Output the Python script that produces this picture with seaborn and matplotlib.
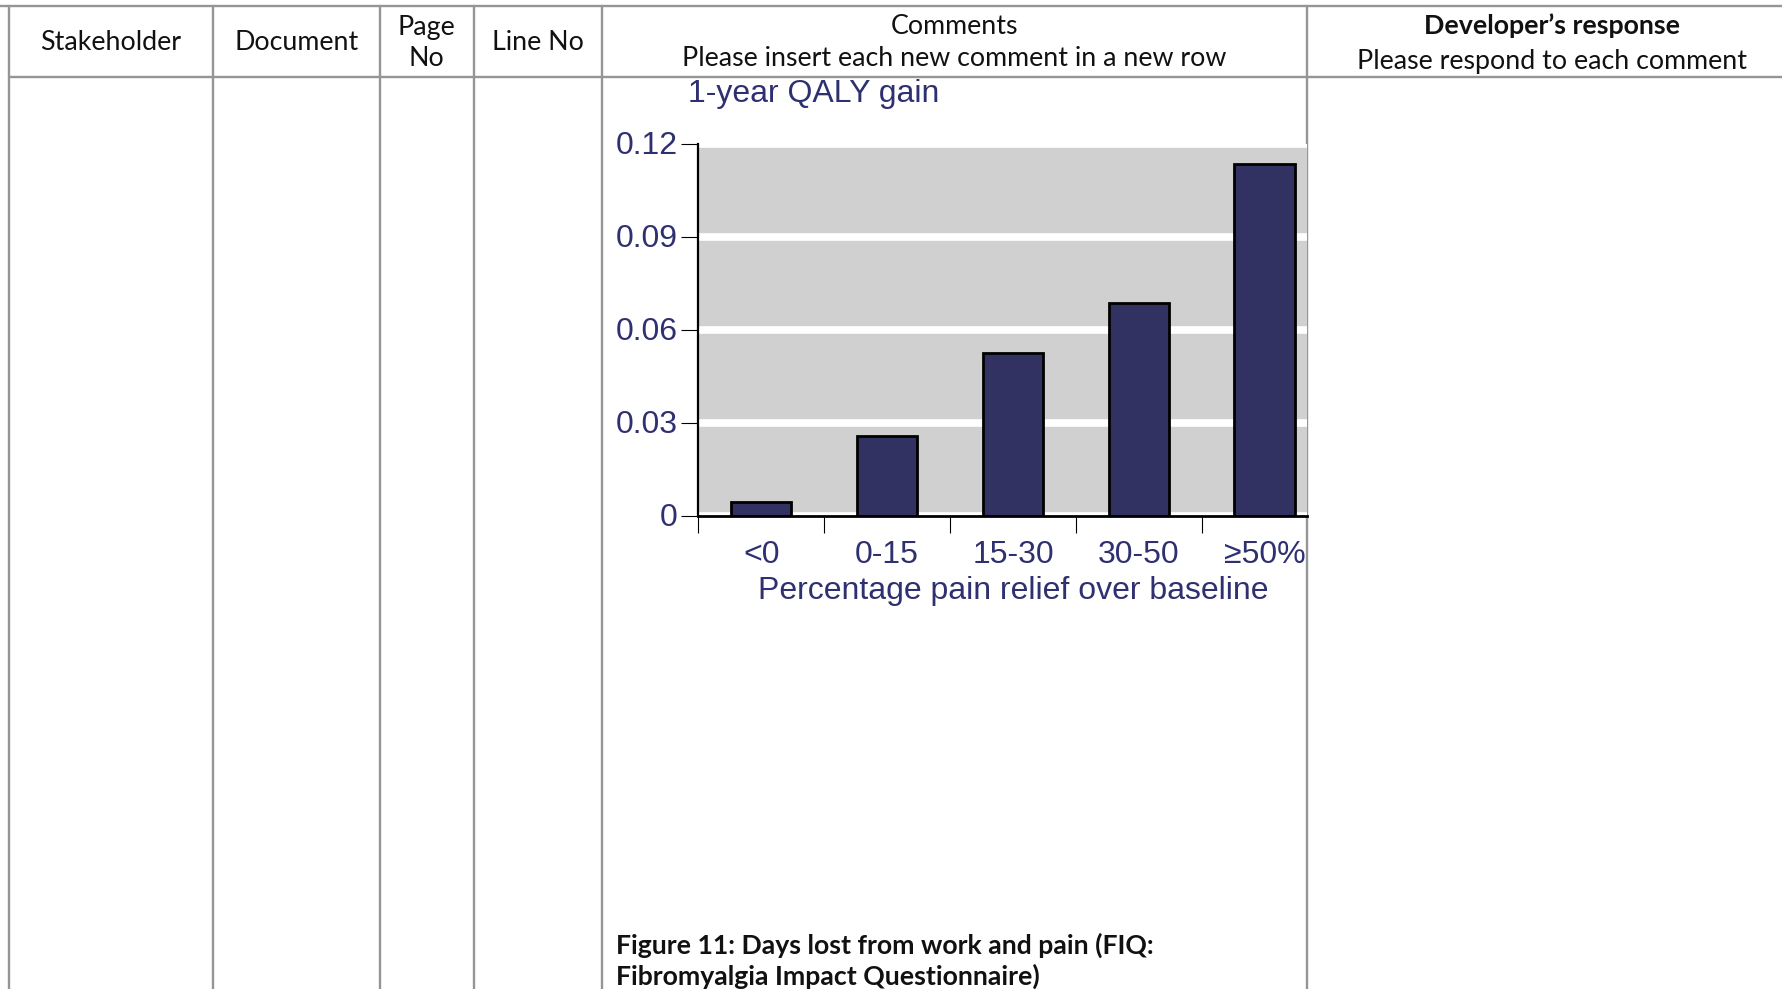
import numpy as np
import matplotlib
matplotlib.use("Agg")
import matplotlib.pyplot as plt
from matplotlib.lines import Line2D
from matplotlib import transforms
import seaborn as sns

# Chart data
categories = ["<0", "0-15", "15-30", "30-50", "\u226550%"]
qaly_gain = [0.0045, 0.0258, 0.0526, 0.0688, 0.1135]
y_ticks = [0, 0.03, 0.06, 0.09, 0.12]
y_tick_labels = ["0", "0.03", "0.06", "0.09", "0.12"]

# Table header text
col_headers = ["Stakeholder", "Document", ["Page", "No"], "Line No"]
comments_head = ["Comments", "Please insert each new comment in a new row"]
response_head = ["Developer\u2019s response", "Please respond to each comment"]
caption = ["Figure 11: Days lost from work and pain (FIQ:", "Fibromyalgia Impact Questionnaire)"]

W, H = 1782, 989
sns.set_style("white")
plt.rcParams["font.family"] = ["Liberation Sans", "DejaVu Sans"]

fig = plt.figure(figsize=(W / 100, H / 100), dpi=100)


def fx(x):
    return x / W


def fy(y):
    return 1 - y / H


# ---- table grid ----
grid_col = "#959595"
grid_lw = 1.7
top_y, head_y = 5.5, 76.5
col_x = [9, 212.7, 379.6, 474, 602, 1306.7]
fig.add_artist(Line2D([fx(0), fx(W)], [fy(top_y), fy(top_y)], color=grid_col, lw=grid_lw))
fig.add_artist(Line2D([fx(col_x[0]), fx(W)], [fy(head_y), fy(head_y)], color=grid_col, lw=grid_lw))
for cx in col_x:
    fig.add_artist(Line2D([fx(cx), fx(cx)], [fy(top_y), fy(H)], color=grid_col, lw=grid_lw, zorder=0))

hfont = dict(family=["Lato", "DejaVu Sans"], color="#111111", fontsize=19.3)
for i, txt in enumerate(col_headers):
    cx = (col_x[i] + col_x[i + 1]) / 2
    if isinstance(txt, list):
        fig.text(fx(cx), fy(27), txt[0], ha="center", va="center", **hfont)
        fig.text(fx(cx), fy(59), txt[1], ha="center", va="center", **hfont)
    else:
        fig.text(fx(cx), fy(43), txt, ha="center", va="center", **hfont)
cx = (col_x[4] + col_x[5]) / 2
fig.text(fx(cx), fy(27), comments_head[0], ha="center", va="center", **hfont)
fig.text(fx(cx), fy(59), comments_head[1], ha="center", va="center", **hfont)
fig.text(fx(1552), fy(25.5), response_head[0], ha="center", va="center", fontweight="bold", **hfont)
fig.text(fx(1552), fy(61.5), response_head[1], ha="center", va="center", **hfont)

cap_font = dict(family=["Lato", "DejaVu Sans"], color="#111111", fontsize=19.2, fontweight="bold")
fig.text(fx(616), fy(945), caption[0], ha="left", va="center", **cap_font)
fig.text(fx(616), fy(976.5), caption[1], ha="left", va="center", **cap_font)

# ---- bar chart ----
navy = "#2e3070"
fs = 23
ax = fig.add_axes([fx(698.3), fy(516.3), (1306.7 - 698.3) / W, (516.3 - 144.3) / H])
ax.set_facecolor("#d0d0d0")
sns.barplot(x=categories, y=qaly_gain, color="#323262", saturation=1, width=0.48,
            edgecolor="black", linewidth=2, ax=ax, zorder=3)
ax.set_xlim(-0.5, 4.334)
ax.set_ylim(0, 0.12)
ax.set_axisbelow(True)
ax.yaxis.grid(True, color="white", lw=5.5, zorder=1)
ax.xaxis.grid(False)

for side in ("top", "right"):
    ax.spines[side].set_visible(False)
ax.spines["left"].set_linewidth(1.6)
ax.spines["bottom"].set_linewidth(2.0)
ax.spines["left"].set_color("black")
ax.spines["bottom"].set_color("black")
ax.spines["left"].set_zorder(5)
ax.spines["bottom"].set_zorder(5)

ax.set_yticks(y_ticks)
ax.set_yticklabels(y_tick_labels)
ax.set_xticks(np.arange(-0.5, len(categories) - 0.5, 1))
ax.set_xticklabels([])
ax.set_xticks(np.arange(len(categories)), minor=True)
ax.set_xticklabels(categories, minor=True)
ax.tick_params(axis="both", which="major", direction="out", length=12, width=0.8,
               color="black", labelsize=fs, labelcolor=navy, left=True, bottom=True)
ax.tick_params(axis="y", pad=3)
ax.tick_params(axis="x", which="minor", length=0, pad=17, labelsize=fs, labelcolor=navy,
               bottom=True)
# vertically centre the value labels on their ticks, nudged slightly down
nudge = transforms.ScaledTranslation(0, -2.0 / 100, fig.dpi_scale_trans)
for lbl in ax.get_yticklabels():
    lbl.set_va("center")
    lbl.set_transform(lbl.get_transform() + nudge)
ax.set_xlabel("")
ax.set_ylabel("")

blend = transforms.blended_transform_factory(ax.transData, ax.transAxes)
ax.text((len(categories) - 1) / 2, (516.3 - 590.5) / 372, "Percentage pain relief over baseline",
        transform=blend, ha="center", va="center", fontsize=fs, color=navy)
fig.text(fx(688), fy(94), "1-year QALY gain", ha="left", va="center", fontsize=fs, color=navy)

fig.savefig("out.png", dpi=100)
